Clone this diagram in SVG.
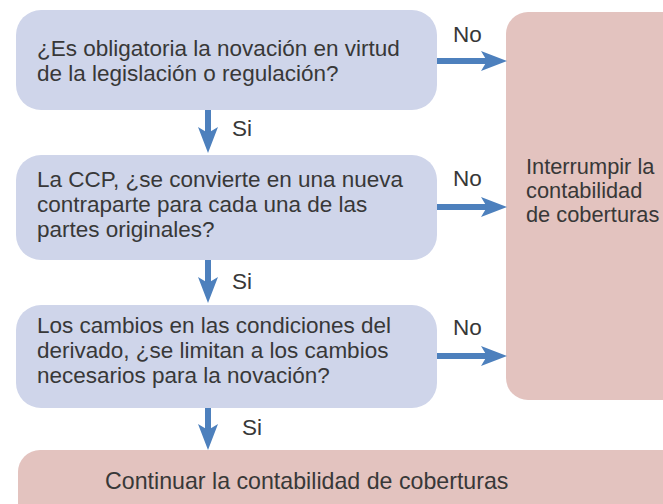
<svg xmlns="http://www.w3.org/2000/svg" width="663" height="504" viewBox="0 0 663 504">
<defs>
<marker id="ah" markerUnits="userSpaceOnUse" markerWidth="26" markerHeight="20" refX="6" refY="10" orient="auto" overflow="visible">
<path d="M0,0 L26,10 L0,20 L6,10 Z" fill="#4d80bd"/>
</marker>
<style>
.q{fill:#cfd5ea}
.r{fill:#e3c3bf}
.t{font-family:"Liberation Sans",Arial,sans-serif;font-size:22.5px;fill:#383838}
.b{font-size:23.2px}
.s{font-size:21.8px}
.c{stroke:#4d80bd;stroke-width:6;fill:none;marker-end:url(#ah)}
</style>
</defs>
<rect width="663" height="504" fill="#ffffff"/>
<g id="q1">
<rect class="q" x="16" y="10" width="421" height="100" rx="25"/>
<text class="t" x="37" y="56">¿Es obligatoria la novación en virtud</text>
<text class="t" x="37" y="81">de la legislación o regulación?</text>
</g>
<g id="q2">
<rect class="q" x="16" y="155" width="421" height="105" rx="25"/>
<text class="t" x="37" y="187">La CCP, ¿se convierte en una nueva</text>
<text class="t" x="37" y="212">contraparte para cada una de las</text>
<text class="t" x="37" y="237">partes originales?</text>
</g>
<g id="q3">
<rect class="q" x="16" y="305" width="421" height="103" rx="25"/>
<text class="t" x="37" y="333">Los cambios en las condiciones del</text>
<text class="t" x="37" y="358">derivado, ¿se limitan a los cambios</text>
<text class="t" x="37" y="383">necesarios para la novación?</text>
</g>
<g id="stop">
<rect class="r" x="506" y="12" width="190" height="388" rx="22"/>
<text class="t s" x="526" y="174">Interrumpir la</text>
<text class="t s" x="526" y="198">contabilidad</text>
<text class="t s" x="526" y="222">de coberturas</text>
</g>
<g id="cont">
<rect class="r" x="18" y="450" width="680" height="80" rx="22"/>
<text class="t b" x="105" y="489">Continuar la contabilidad de coberturas</text>
</g>
<g id="connectors">
<line class="c" x1="208" y1="110" x2="208" y2="133"/>
<line class="c" x1="208" y1="260" x2="208" y2="283"/>
<line class="c" x1="208" y1="408" x2="208" y2="430"/>
<line class="c" x1="437" y1="61" x2="487" y2="61"/>
<line class="c" x1="437" y1="207" x2="487" y2="207"/>
<line class="c" x1="437" y1="356" x2="487" y2="356"/>
<text class="t" x="232" y="136">Si</text>
<text class="t" x="232" y="289">Si</text>
<text class="t" x="242" y="435">Si</text>
<text class="t" x="453" y="42">No</text>
<text class="t" x="453" y="186">No</text>
<text class="t" x="453" y="335">No</text>
</g>
</svg>
